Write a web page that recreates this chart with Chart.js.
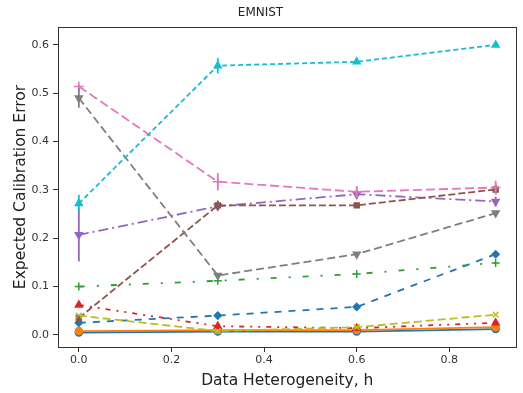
<!DOCTYPE html>
<html>
<head>
<meta charset="utf-8">
<script src="https://cdn.jsdelivr.net/npm/chart.js@4/dist/chart.umd.min.js"></script>
<style>
  html, body { margin: 0; padding: 0; background: #fff; }
  #wrap { width: 523px; height: 393px; }
</style>
</head>
<body>
<div id="wrap"><canvas id="eceChart" width="523" height="393"></canvas></div>
<script>
// heterogeneity levels and axis ticks
const hValues = [0, 0.3, 0.6, 0.9];
const xTicks = [0, 0.2, 0.4, 0.6, 0.8];
const yTicks = [0, 0.1, 0.2, 0.3, 0.4, 0.5, 0.6];

// ECE per method
const blueDiamond  = [0.025, 0.040, 0.058, 0.167];
const orangeCircle = [0.008, 0.010, 0.010, 0.016];
const greenPlus    = [0.100, 0.112, 0.126, 0.149];
const redTriangle  = [0.062, 0.018, 0.014, 0.025];
const purpleDown   = [0.207, 0.266, 0.291, 0.276];
const brownSquare  = [0.035, 0.268, 0.268, 0.301];
const pinkPlus     = [0.514, 0.317, 0.296, 0.305];
const grayDown     = [0.490, 0.123, 0.167, 0.252];
const oliveX       = [0.040, 0.008, 0.016, 0.042];
const cyanUp       = [0.272, 0.557, 0.565, 0.600];
const blueCircle   = [0.005, 0.007, 0.007, 0.012];

// error bar half-lengths
const purpleErr = [0.055, 0.008, 0.010, 0.010];
const grayErr   = [0.020, 0.004, 0.004, 0.005];
const pinkErr   = [0.005, 0.018, 0.012, 0.014];
const cyanErr   = [0.018, 0.016, 0.005, 0.005];
const brownErr  = [0.004, 0.010, 0.004, 0.010];

function pts(vals) { return hValues.map((h, i) => ({ x: h, y: vals[i] })); }

const series = [
  { vals: blueCircle,   color: '#1f77b4', style: 'circle',   rot: 0,   r: 3.5, dash: [] },
  { vals: blueDiamond,  color: '#1f77b4', style: 'rectRot',  rot: 0,   r: 3.5, dash: [7, 7] },
  { vals: orangeCircle, color: '#ff7f0e', style: 'circle',   rot: 0,   r: 3.5, dash: [] },
  { vals: greenPlus,    color: '#2ca02c', style: 'cross',    rot: 0,   r: 4,   dash: [6, 12, 2, 12] },
  { vals: redTriangle,  color: '#d62728', style: 'triangle', rot: 0,   r: 4,   dash: [5, 6, 2, 6, 2, 6] },
  { vals: purpleDown,   color: '#9467bd', style: 'triangle', rot: 180, r: 4,   dash: [10, 4, 2, 4], err: purpleErr },
  { vals: brownSquare,  color: '#8c564b', style: 'rect',     rot: 0,   r: 3.5, dash: [7, 3], err: brownErr },
  { vals: pinkPlus,     color: '#e377c2', style: 'cross',    rot: 0,   r: 5,   dash: [9, 4], err: pinkErr },
  { vals: grayDown,     color: '#7f7f7f', style: 'triangle', rot: 180, r: 4,   dash: [8, 4], err: grayErr },
  { vals: oliveX,       color: '#bcbd22', style: 'crossRot', rot: 0,   r: 4,   dash: [8, 4] },
  { vals: cyanUp,       color: '#17becf', style: 'triangle', rot: 0,   r: 4,   dash: [5, 3], err: cyanErr }
];

const datasets = series.map((s, i) => ({
  data: pts(s.vals),
  borderColor: s.color,
  backgroundColor: s.color,
  borderWidth: 1.8,
  borderDash: s.dash,
  pointStyle: s.style,
  pointRotation: s.rot,
  pointRadius: s.r,
  pointBorderWidth: 1.5,
  pointBorderColor: s.color,
  pointBackgroundColor: s.color,
  tension: 0,
  order: series.length - i,
  errs: s.err
}));

const errorBars = {
  id: 'errorBars',
  afterDatasetsDraw(chart) {
    const { ctx, scales: { x, y } } = chart;
    ctx.save();
    chart.data.datasets.forEach(ds => {
      if (!ds.errs) return;
      ctx.strokeStyle = ds.borderColor;
      ctx.lineWidth = 1.8;
      ds.data.forEach((p, i) => {
        const px = x.getPixelForValue(p.x);
        ctx.beginPath();
        ctx.moveTo(px, y.getPixelForValue(p.y - ds.errs[i]));
        ctx.lineTo(px, y.getPixelForValue(p.y + ds.errs[i]));
        ctx.stroke();
      });
    });
    ctx.restore();
  }
};

const frame = {
  id: 'frame',
  afterDraw(chart) {
    const { ctx, chartArea: a } = chart;
    ctx.save();
    ctx.strokeStyle = '#333';
    ctx.lineWidth = 1;
    ctx.strokeRect(Math.round(a.left) + 0.5, Math.round(a.top) + 0.5,
      Math.round(a.right - a.left) - 1, Math.round(a.bottom - a.top));
    ctx.restore();
  }
};

const tickColor = '#333';
const font = 'DejaVu Sans';

new Chart(document.getElementById('eceChart'), {
  type: 'line',
  data: { datasets },
  plugins: [errorBars, frame],
  options: {
    responsive: false,
    animation: false,
    layout: { padding: { top: 0, right: 2, bottom: 0, left: 0 } },
    plugins: {
      legend: { display: false },
      tooltip: { enabled: false },
      title: {
        display: true,
        text: 'EMNIST',
        color: '#222',
        font: { family: font, size: 12, weight: 'normal' },
        padding: { top: 6, bottom: 6.6 }
      }
    },
    scales: {
      x: {
        type: 'linear',
        min: -0.045,
        max: 0.945,
        afterBuildTicks: s => { s.ticks = xTicks.map(v => ({ value: v })); },
        afterFit: s => { s.height = 46; },
        grid: { display: true, drawOnChartArea: false, drawTicks: true, tickLength: 5, color: tickColor },
        border: { display: true, color: tickColor },
        ticks: {
          color: tickColor, padding: 2,
          font: { family: font, size: 11 },
          callback: v => v.toFixed(1)
        },
        title: {
          display: true, text: 'Data Heterogeneity, h', color: '#222',
          font: { family: font, size: 15.5 },
          padding: { top: 0, bottom: 3 }
        }
      },
      y: {
        type: 'linear',
        min: -0.025,
        max: 0.637,
        afterBuildTicks: s => { s.ticks = yTicks.map(v => ({ value: v })); },
        afterFit: s => { s.width = 58; },
        grid: { display: true, drawOnChartArea: false, drawTicks: true, tickLength: 5, color: tickColor },
        border: { display: true, color: tickColor },
        ticks: {
          color: tickColor, padding: 4,
          font: { family: font, size: 11 },
          callback: v => v.toFixed(1)
        },
        title: {
          display: true, text: 'Expected Calibration Error', color: '#222',
          font: { family: font, size: 15.5 },
          padding: { top: 12, bottom: 0 }
        }
      }
    }
  }
});
</script>
</body>
</html>
